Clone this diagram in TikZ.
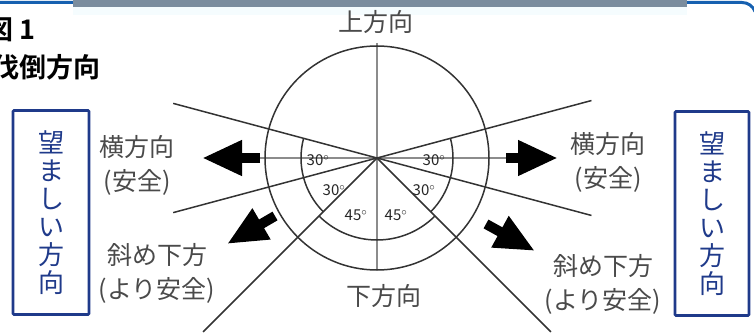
\documentclass[tikz,border=0pt]{standalone}
\usepackage{fontspec}
\setmainfont{Noto Sans CJK JP}[BoldFont={Noto Sans CJK JP Bold}]
\usepackage{xcolor}
\usetikzlibrary{arrows.meta, calc}

\definecolor{navy}{HTML}{1F3A8A}
\definecolor{barblue}{HTML}{1660B0}
\definecolor{bargray}{HTML}{7B8D9E}
\definecolor{inkgray}{HTML}{4A4A4A}

\begin{document}
\begin{tikzpicture}[x=1pt, y=1pt,
    lbl/.style={align=center, font=\fontsize{25}{34}\selectfont,
                text=inkgray, inner sep=0pt},
    wish/.style={draw=navy, line width=2.6pt, rounded corners=1pt,
                 minimum height=204pt, align=center, inner sep=0pt,
                 text=navy, font=\fontsize{26}{28}\selectfont},
    deg/.style={font=\fontsize{15}{15}\selectfont, inner sep=0pt, text=black!85},
    ray/.style={line width=1.5pt, draw=black!80},
    axisln/.style={line width=1.6pt, draw=black!45},
    fat/.style={line width=10pt, -{Triangle[length=40pt, width=33pt]}},
    ttlfont/.style={inner sep=0pt, font=\bfseries\fontsize{27}{27}\selectfont},
]
\useasboundingbox (0,0) rectangle (754,-334);

% top strip
\draw[barblue, line width=3pt] (0,-2.5) -- (742,-2.5) arc[start angle=90, end angle=20, radius=14];
\fill[bargray] (73,0) rectangle (687,-7);
\fill[cyan!4] (73,-7) rectangle (687,-15);

% title
\node[ttlfont, anchor=west] (fig) at (-14,-30) {図 1};
\node[ttlfont, anchor=east] (ttl) at (101,-67) {伐倒方向};

\coordinate (O) at (377,-158);
\coordinate (top) at ($(O)+(0,115)$);
\coordinate (bot) at ($(O)+(0,-111)$);
\coordinate (ul) at ($(O)+(165:211)$);
\coordinate (lr) at ($(O)+(-15:222)$);
\coordinate (ll) at ($(O)+(195:211)$);
\coordinate (ur) at ($(O)+(15:222)$);
\coordinate (dl) at ($(O)+(225:246)$);
\coordinate (dr) at ($(O)+(-45:246)$);
\coordinate (lt) at (260,-158);
\coordinate (lh) at (202,-158);
\coordinate (rt) at (506,-158);
\coordinate (rh) at (558,-158);
\coordinate (dlt) at (275,-216);
\coordinate (dlh) at (227,-244);
\coordinate (drt) at (486,-224);
\coordinate (drh) at (535,-251);

% axes, circle, rays
\draw[axisln] (top) -- (bot);
\draw[axisln] (lt) -- (rt);
\draw[ray] (O) circle[radius=112];
\draw[ray] (ul) -- (lr);
\draw[ray] (ll) -- (ur);
\draw[ray] (O) -- (dl);
\draw[ray] (O) -- (dr);
\draw[ray] (O) ++(165:76) arc[start angle=165, end angle=225, radius=76];
\draw[ray] (O) ++(225:82) arc[start angle=225, end angle=315, radius=82];
\draw[ray] (O) ++(315:76) arc[start angle=315, end angle=375, radius=76];

% fall arrows
\draw[fat] (lt) -- (lh);
\draw[fat] (rt) -- (rh);
\draw[fat] (dlt) -- (dlh);
\draw[fat] (drt) -- (drh);

% angle marks
\node[deg] (a1) at (318,-160) {30$^\circ$};
\node[deg] (a2) at (334,-190) {30$^\circ$};
\node[deg] (a3) at (356,-215) {45$^\circ$};
\node[deg] (a4) at (396,-215) {45$^\circ$};
\node[deg] (a5) at (424,-190) {30$^\circ$};
\node[deg] (a6) at (434,-160) {30$^\circ$};

% direction labels
\node[lbl] (up)  at (376,-22) {上方向};
\node[lbl] (dn)  at (384,-296) {下方向};
\node[lbl] (sl)  at (137,-165) {横方向\\(安全)};
\node[lbl] (dgl) at (157,-273) {斜め下方\\(より安全)};
\node[lbl] (sr)  at (608,-162) {横方向\\(安全)};
\node[lbl] (dgr) at (603,-284) {斜め下方\\(より安全)};

% desirable direction boxes
\node[wish, minimum width=76pt] (wl) at (51,-212.5) {望\\ま\\し\\い\\方\\向};
\node[wish, minimum width=74pt] (wr) at (712,-213.5) {望\\ま\\し\\い\\方\\向};
\end{tikzpicture}
\end{document}
